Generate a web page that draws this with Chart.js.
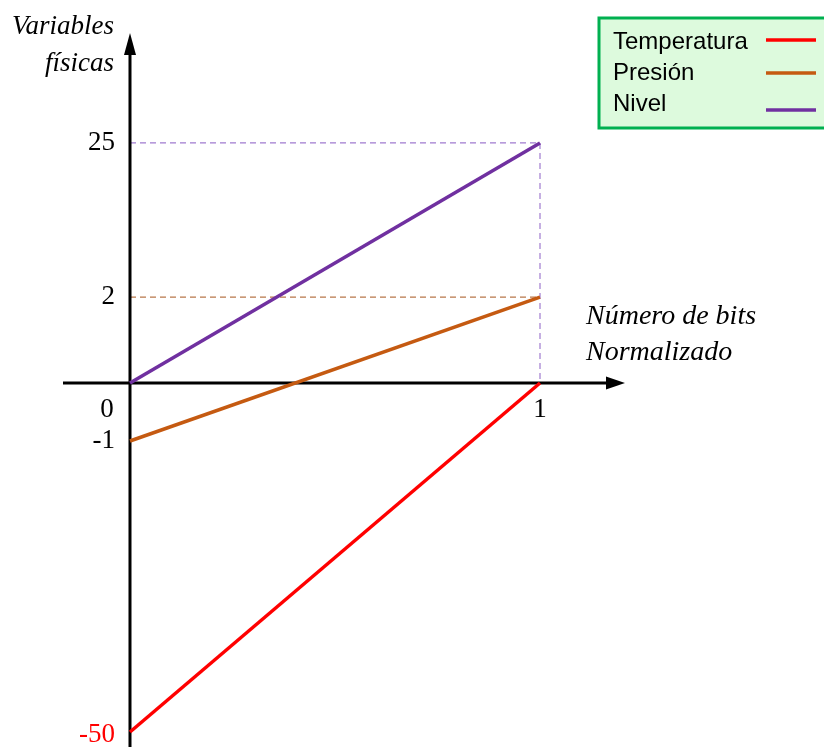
<!DOCTYPE html>
<html>
<head>
<meta charset="utf-8">
<script src="https://cdn.jsdelivr.net/npm/chart.js@4/dist/chart.umd.min.js"></script>
<style>
  html, body { margin: 0; padding: 0; background: #fff; }
  #wrap { width: 824px; height: 747px; position: relative; }
</style>
</head>
<body>
<div id="wrap"><canvas id="chart"></canvas></div>
<script>
const xValues = [0, 1];
const seriesNames = ['Temperatura', 'Presión', 'Nivel'];
const temperatura = [-50, 0];
const presion = [-1, 2];
const nivel = [0, 25];
const yTicks = [25, 2, 0, -1, -50];
const xTicks = [0, 1];

const colors = { Temperatura: '#FF0000', 'Presión': '#C55A11', Nivel: '#7030A0' };

// schematic axis: each tick value sits at its own height (fraction of plot from bottom)
const yStops = [-50, -1, 0, 2, 25];
const yStopPos = [0.021, 0.4286, 0.5098, 0.630, 0.846];

class PiecewiseScale extends Chart.LinearScale {
  static id = 'piecewise';
  static defaults = Chart.LinearScale.defaults;
  _frac(v) {
    let i = 0;
    if (v >= yStops[yStops.length - 1]) i = yStops.length - 2;
    else while (i < yStops.length - 2 && v > yStops[i + 1]) i++;
    const t = (v - yStops[i]) / (yStops[i + 1] - yStops[i]);
    return yStopPos[i] + t * (yStopPos[i + 1] - yStopPos[i]);
  }
  getPixelForValue(v) {
    if (v === null || v === undefined) return NaN;
    return this.bottom - this._frac(v) * (this.bottom - this.top);
  }
  getValueForPixel(p) {
    const f = (this.bottom - p) / (this.bottom - this.top);
    let i = 0;
    while (i < yStopPos.length - 2 && f > yStopPos[i + 1]) i++;
    const t = (f - yStopPos[i]) / (yStopPos[i + 1] - yStopPos[i]);
    return yStops[i] + t * (yStops[i + 1] - yStops[i]);
  }
}
Chart.register(PiecewiseScale);

const serif = '"Liberation Serif", "DejaVu Serif", serif';
const sans = '"Liberation Sans", Arial, sans-serif';

const drawing = {
  id: 'drawing',
  beforeDatasetsDraw(chart) {
    const ctx = chart.ctx;
    const xs = chart.scales.x, ys = chart.scales.y;
    const x0 = xs.getPixelForValue(0), x1 = xs.getPixelForValue(1);
    const y0 = ys.getPixelForValue(0);

    // dashed guides
    ctx.save();
    ctx.lineWidth = 1.2;
    ctx.setLineDash([6, 4]);
    const yN = ys.getPixelForValue(nivel[1]);
    const yP = ys.getPixelForValue(presion[1]);
    ctx.strokeStyle = '#A07BCF';
    ctx.beginPath();
    ctx.moveTo(x0, yN); ctx.lineTo(x1, yN);
    ctx.moveTo(x1, yN); ctx.lineTo(x1, y0);
    ctx.stroke();
    ctx.strokeStyle = '#B8774A';
    ctx.beginPath();
    ctx.moveTo(x0, yP); ctx.lineTo(x1, yP);
    ctx.stroke();
    ctx.restore();

    // axes
    ctx.save();
    ctx.strokeStyle = '#000';
    ctx.fillStyle = '#000';
    ctx.lineWidth = 3;
    const ca = chart.chartArea;
    ctx.beginPath();
    ctx.moveTo(ca.left, y0); ctx.lineTo(ca.right - 15, y0);
    ctx.moveTo(x0, ca.bottom); ctx.lineTo(x0, ca.top + 18);
    ctx.stroke();
    ctx.beginPath();
    ctx.moveTo(ca.right, y0);
    ctx.lineTo(ca.right - 19, y0 - 6.5);
    ctx.lineTo(ca.right - 19, y0 + 6.5);
    ctx.closePath();
    ctx.fill();
    ctx.beginPath();
    ctx.moveTo(x0, ca.top);
    ctx.lineTo(x0 - 6, ca.top + 22);
    ctx.lineTo(x0 + 6, ca.top + 22);
    ctx.closePath();
    ctx.fill();

    // tick labels
    ctx.font = '27px ' + serif;
    ctx.textBaseline = 'middle';
    yTicks.forEach(v => {
      const y = ys.getPixelForValue(v);
      ctx.fillStyle = v === -50 ? '#FF0000' : '#000';
      if (v === 0) {
        ctx.textAlign = 'center';
        ctx.fillText(String(v), x0 - 23, y + 27);
      } else {
        ctx.textAlign = 'right';
        ctx.fillText(String(v), x0 - 15, y + (v === -50 ? 3 : 0));
      }
    });
    ctx.fillStyle = '#000';
    ctx.textAlign = 'center';
    xTicks.filter(v => v !== 0).forEach(v => {
      ctx.fillText(String(v), xs.getPixelForValue(v), y0 + 27);
    });

    // axis titles
    ctx.font = 'italic 27px ' + serif;
    ctx.textAlign = 'right';
    ctx.fillText('Variables', 114, 27);
    ctx.fillText('físicas', 114, 64);
    ctx.font = 'italic 28px ' + serif;
    ctx.textAlign = 'left';
    ctx.fillText('Número de bits', 586, 317);
    ctx.fillText('Normalizado', 586, 353);
    ctx.restore();
  },
  afterDatasetsDraw(chart) {
    const ctx = chart.ctx;
    ctx.save();
    ctx.fillStyle = '#DDFADD';
    ctx.strokeStyle = '#00B050';
    ctx.lineWidth = 3;
    ctx.fillRect(599, 18, 240, 110);
    ctx.strokeRect(599, 18, 240, 110);
    ctx.font = '24px ' + sans;
    ctx.textBaseline = 'middle';
    ctx.textAlign = 'left';
    const rowY = [42, 73, 104];
    const lineY = [40, 73, 110];
    chart.data.datasets.forEach((ds, i) => {
      ctx.fillStyle = '#000';
      ctx.fillText(ds.label, 613, rowY[i]);
      ctx.strokeStyle = ds.borderColor;
      ctx.lineWidth = 3.5;
      ctx.beginPath();
      ctx.moveTo(766, lineY[i]);
      ctx.lineTo(816, lineY[i]);
      ctx.stroke();
    });
    ctx.restore();
  }
};

const seriesData = [temperatura, presion, nivel];

new Chart(document.getElementById('chart'), {
  type: 'line',
  data: {
    datasets: seriesNames.map((name, i) => ({
      label: name,
      data: xValues.map((x, j) => ({ x: x, y: seriesData[i][j] })),
      borderColor: colors[name],
      borderWidth: 3.5,
      pointRadius: 0,
      fill: false,
      tension: 0,
    }))
  },
  options: {
    responsive: true,
    maintainAspectRatio: false,
    animation: false,
    layout: { padding: { left: 63, right: 199, top: 33, bottom: 0 } },
    plugins: { legend: { display: false }, tooltip: { enabled: false } },
    scales: {
      x: { type: 'linear', min: -0.1634, max: 1.2073, display: false },
      y: { type: 'piecewise', min: -51.8, max: 30, display: false }
    }
  },
  plugins: [drawing]
});
</script>
</body>
</html>
